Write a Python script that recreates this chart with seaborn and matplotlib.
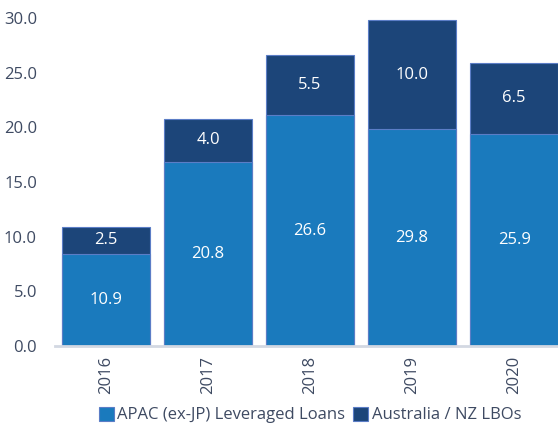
import matplotlib
matplotlib.use("Agg")
import numpy as np
import pandas as pd
import matplotlib.pyplot as plt
import seaborn as sns
from matplotlib.patches import Patch

# === DATA ===
years = ["2016", "2017", "2018", "2019", "2020"]
apac_loans = [10.9, 20.8, 26.6, 29.8, 25.9]     # total APAC (ex-JP) leveraged loans
anz_lbos = [2.5, 4.0, 5.5, 10.0, 6.5]           # Australia / NZ LBOs portion
yticks = [0, 5, 10, 15, 20, 25, 30]

# === STYLE ===
sns.set_theme(style="white")
plt.rcParams["font.family"] = ["Open Sans", "DejaVu Sans"]
text_color = "#3e4a62"
light_blue = "#1a7abd"
dark_blue = "#1c4579"
edge_col = "#5b7dc6"
fs = 12

df = pd.DataFrame({"year": years, "apac": apac_loans, "anz": anz_lbos})
df["rest"] = df["apac"] - df["anz"]

fig = plt.figure(figsize=(5.58, 4.28), dpi=100)
ax = fig.add_axes([55 / 558, 82 / 428, 503 / 558, 339 / 428])

# full bar (top segment colour) then the lower segment on top of it
sns.barplot(data=df, x="year", y="apac", color=dark_blue, saturation=1,
            width=0.86, edgecolor=edge_col, linewidth=0.8, ax=ax)
sns.barplot(data=df, x="year", y="rest", color=light_blue, saturation=1,
            width=0.86, edgecolor=edge_col, linewidth=0.8, ax=ax)

for i, row in df.iterrows():
    ax.text(i, row["rest"] / 2, f"{row['apac']:.1f}", color="white",
            ha="center", va="center", fontsize=fs)
    ax.text(i, row["rest"] + row["anz"] / 2, f"{row['anz']:.1f}", color="white",
            ha="center", va="center", fontsize=fs)

ax.set_xlim(-0.5, 4.43)
ax.set_ylim(0, 31)
ax.set_yticks(yticks)
ax.set_yticklabels([f"{v:.1f}" for v in yticks])
ax.set_xlabel("")
ax.set_ylabel("")
ax.tick_params(axis="y", length=0, pad=13, labelsize=fs, labelcolor=text_color)
ax.tick_params(axis="x", length=0, pad=7, labelsize=fs, labelcolor=text_color,
               labelrotation=90)

for s in ["top", "right", "left"]:
    ax.spines[s].set_visible(False)
ax.spines["bottom"].set_color("#d3d8e2")
ax.spines["bottom"].set_linewidth(2)

handles = [Patch(facecolor=light_blue, edgecolor=edge_col, linewidth=0.8),
           Patch(facecolor=dark_blue, edgecolor=edge_col, linewidth=0.8)]
fig.legend(handles, ["APAC (ex-JP) Leveraged Loans", "Australia / NZ LBOs"],
           loc="center", bbox_to_anchor=(310 / 558, 1 - 415 / 428), ncol=2,
           frameon=False, fontsize=fs, labelcolor=text_color,
           handlelength=0.9, handleheight=0.9, handletextpad=0.2,
           columnspacing=0.5)

fig.savefig("out.png", dpi=100)
